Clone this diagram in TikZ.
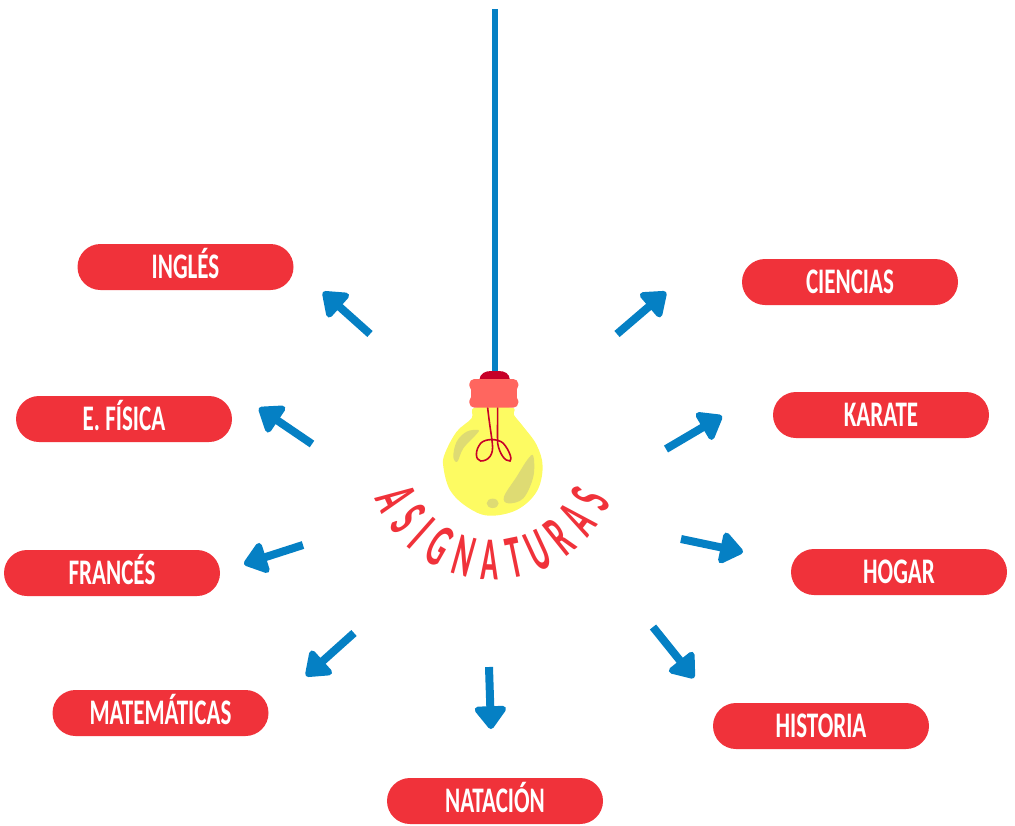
\documentclass[tikz,border=0pt]{standalone}
\usepackage{fontspec}
\usetikzlibrary{arrows.meta,decorations.text}
\newfontfamily\pillfont[FakeStretch=0.64]{Carlito Bold}
\newfontfamily\titlefont[FakeStretch=0.48]{Carlito Bold}
\definecolor{pillred}{HTML}{F0323A}
\definecolor{arrowblue}{HTML}{0580C4}
\definecolor{bulbyellow}{HTML}{FDFB62}
\definecolor{bulbshade}{HTML}{DEDB73}
\definecolor{capred}{HTML}{C70028}
\definecolor{collar}{HTML}{FF665F}
\tikzset{
  pill/.style={fill=pillred,rounded corners=23pt,minimum width=216pt,minimum height=46pt,inner sep=0pt,
    text=white,font=\pillfont\fontsize{36}{36}\selectfont,text height=23pt,text depth=0pt},
  pointer/.style={draw=arrowblue,line width=8pt,-{Triangle[length=25pt,width=36pt,round]}},
}
\begin{document}
\begin{tikzpicture}[x=1pt,y=-1pt]
\useasboundingbox (0,0) rectangle (1015,825);
% rope
\draw[arrowblue,line width=6pt] (494.5,9) -- (494.5,375);
% bulb, in the coordinates of the enlarged crop
\begin{scope}[shift={(360,360)},x=0.3333pt,y=-0.3333pt]
  \fill[bulbyellow] plot[smooth cycle,tension=0.6] coordinates {(345,143)(335,175)(290,215)(255,280)(250,320)(270,390)(320,440)(385,467)(470,450)(530,395)(548,320)(530,255)(490,200)(462,165)(455,143)};
  \fill[bulbshade] plot[smooth cycle,tension=0.6] coordinates {(355,210)(320,215)(290,245)(280,290)(292,305)(310,265)(350,222)};
  \fill[bulbshade] plot[smooth cycle,tension=0.6] coordinates {(520,288)(503,298)(470,350)(432,410)(445,430)(490,415)(520,350)};
  \fill[bulbshade] (398,430) ellipse[x radius=6pt,y radius=4.7pt];
  \draw[capred,line width=1.6pt,line cap=round] (383,143) .. controls (388,190) and (393,215) .. (397,250)
     .. controls (402,285) and (385,303) .. (362,303) .. controls (345,300) and (345,270) .. (362,250)
     .. controls (375,235) and (415,235) .. (430,250) .. controls (448,270) and (458,300) .. (450,303)
     .. controls (435,305) and (418,280) .. (413,250) .. controls (412,215) and (413,190) .. (413,143);
  \fill[capred] (358,60) .. controls (360,40) and (375,33) .. (395,33) -- (415,33) .. controls (435,33) and (448,40) .. (450,60) -- cycle;
  \fill[collar,rounded corners=5pt] (328,57) rectangle (475,92);
  \fill[collar] (333,80) rectangle (470,120);
  \fill[collar,rounded corners=5pt] (328,108) rectangle (475,143);
\end{scope}
% title on its arc
\path[postaction={decorate,decoration={text along path,text align={fit to path},
   text={|\titlefont\fontsize{61}{61}\selectfont\color{pillred}|ASIGNATURAS}}}]
   (374.4,498.5) arc[start angle=201,end angle=338,radius=127pt];
% subject pills
\node[pill] (ingles) at (185.5,267) {INGLÉS};
\node[pill] (fisica) at (124,419) {E. FÍSICA};
\node[pill] (frances) at (112,573) {FRANCÉS};
\node[pill] (mate) at (160.5,713) {MATEMÁTICAS};
\node[pill] (natacion) at (495,801) {NATACIÓN};
\node[pill] (historia) at (821,726) {HISTORIA};
\node[pill] (hogar) at (899,572) {HOGAR};
\node[pill] (karate) at (881,415) {KARATE};
\node[pill] (ciencias) at (850,282) {CIENCIAS};
% pointers
\coordinate (a1) at (370,334); \coordinate (b1) at (323,292);
\coordinate (a2) at (312,444); \coordinate (b2) at (259,408);
\coordinate (a3) at (303,545); \coordinate (b3) at (244,564);
\coordinate (a4) at (354,633); \coordinate (b4) at (306,676);
\coordinate (a5) at (489,667); \coordinate (b5) at (491,729);
\coordinate (a6) at (653,627); \coordinate (b6) at (694,678);
\coordinate (a7) at (681,539); \coordinate (b7) at (743,552);
\coordinate (a8) at (666,449); \coordinate (b8) at (722,416);
\coordinate (a9) at (617,334); \coordinate (b9) at (666,292);
\foreach \i in {1,...,9} \draw[pointer] (a\i) -- (b\i);
\end{tikzpicture}
\end{document}
